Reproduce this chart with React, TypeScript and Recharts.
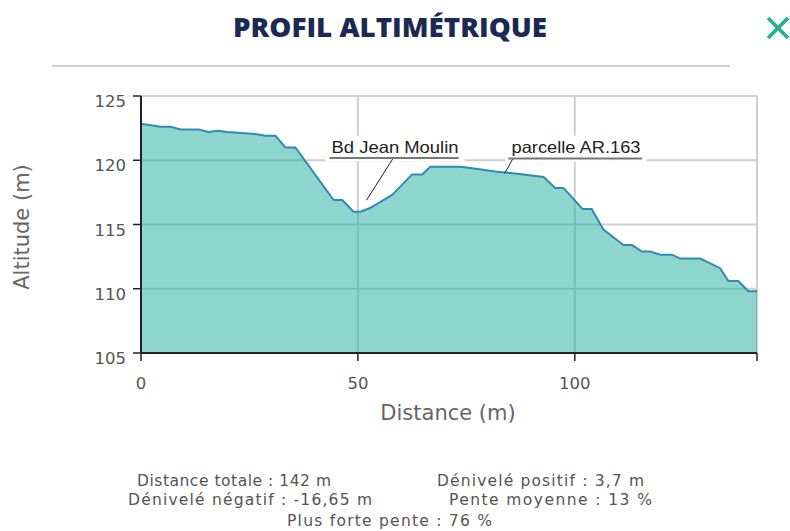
import React from 'react';
import { AreaChart, Area, XAxis, YAxis, CartesianGrid, ReferenceDot } from 'recharts';

const distances = [0, 4.5, 6.8, 9.1, 13.3, 15.6, 17.6, 19.9, 26.4, 28.7, 31.0, 33.3, 35.6, 44.4, 46.4, 49.0, 50.6, 52.9, 57.9, 62.5, 64.8, 66.7, 73.6, 75.9, 82.1, 86.7, 92.8, 95.5, 97.4, 101.8, 103.9, 106.6, 111.2, 113.2, 115.5, 117.4, 119.7, 122.4, 124.3, 128.9, 133.5, 135.4, 137.7, 140.0, 142];
const altitudes = [122.85, 122.6, 122.6, 122.4, 122.4, 122.2, 122.3, 122.2, 122.05, 121.9, 121.9, 121.0, 121.0, 116.9, 116.9, 116.0, 116.0, 116.3, 117.3, 118.9, 118.9, 119.5, 119.5, 119.4, 119.1, 118.95, 118.7, 117.85, 117.85, 116.2, 116.2, 114.6, 113.4, 113.4, 112.9, 112.9, 112.65, 112.65, 112.35, 112.35, 111.6, 110.6, 110.6, 109.8, 109.8];

const xTicks = [0, 50, 100, 142];
const xTickLabels = ['0', '50', '100', ''];
const yTicks = [105, 110, 115, 120, 125];

const annotationLabels = ['Bd Jean Moulin', 'parcelle AR.163'];
const annotationX = [52.0, 83.8];
const annotationY = [116.9, 118.96];

const titleText = 'PROFIL ALTIMÉTRIQUE';
const xAxisTitle = 'Distance (m)';
const yAxisTitle = 'Altitude (m)';
const statTexts = [
  'Distance totale : 142 m',
  'Dénivelé positif : 3,7 m',
  'Dénivelé négatif : -16,65 m',
  'Pente moyenne : 13 %',
  'Plus forte pente : 76 %',
];

const data = distances.map((d, i) => ({ d, alt: altitudes[i] }));

const FONT = '"DejaVu Sans", Verdana, sans-serif';
const LABEL_FONT = '"Liberation Sans", Arial, sans-serif';

// per-annotation layout (pixel offsets relative to anchor)
const annLayout = [
  { lx: 26, ly: -41, ux1: -37, ux2: 92, uy: -42, tx: -35, ty: -47.5, tw: 127 },
  { lx: 8.4, ly: -15, ux1: 3.7, ux2: 137.7, uy: -15, tx: 7, ty: -21, tw: 129 },
];

const makeAnnotation = (idx: number) => (props: any) => {
  const { cx, cy } = props;
  const L = annLayout[idx];
  return (
    <g>
      <rect x={cx + L.tx - 6} y={cy + L.ty - 17} width={L.tw + 12} height={L.uy - L.ty + 20} fill="#ffffff" />
      <line x1={cx} y1={cy} x2={cx + L.lx} y2={cy + L.ly} stroke="#222" strokeWidth={1} />
      <line x1={cx + L.ux1} y1={cy + L.uy} x2={cx + L.ux2} y2={cy + L.uy} stroke="#777" strokeWidth={2} />
      <text x={cx + L.tx} y={cy + L.ty} fontFamily={LABEL_FONT} fontSize={16.5} fill="#222" textLength={L.tw} lengthAdjust="spacingAndGlyphs">
        {annotationLabels[idx]}
      </text>
    </g>
  );
};

const XTick = (props: any) => {
  const { x, payload } = props;
  const i = xTicks.indexOf(payload.value);
  const label = i >= 0 ? xTickLabels[i] : '';
  return (
    <text x={x} y={389} textAnchor="middle" fontFamily={FONT} fontSize={16.5} fill="#555">
      {label}
    </text>
  );
};

const YTick = (props: any) => {
  const { y, payload } = props;
  return (
    <text x={126} y={y + 11} textAnchor="end" fontFamily={FONT} fontSize={16.5} fill="#555">
      {payload.value}
    </text>
  );
};

export default function App() {
  return (
    <div style={{ position: 'absolute', left: 0, top: 0, width: 790, height: 531, background: '#fff', overflow: 'hidden' }}>
      <div style={{ position: 'absolute', left: 0, top: 0 }}>
        <AreaChart width={790} height={531} data={data} margin={{ top: 96, right: 33, left: 0, bottom: 0 }}>
          <CartesianGrid stroke="#cfcfcf" strokeWidth={2} />
          <XAxis
            dataKey="d"
            type="number"
            domain={[0, 142]}
            ticks={xTicks}
            height={178}
            axisLine={{ stroke: '#222', strokeWidth: 2 }}
            tickLine={{ stroke: '#222', strokeWidth: 1.5 }}
            tickSize={8}
            tick={<XTick />}
            interval={0}
            allowDataOverflow
          />
          <YAxis
            type="number"
            domain={[105, 125]}
            ticks={yTicks}
            width={141}
            axisLine={{ stroke: '#222', strokeWidth: 2 }}
            tickLine={{ stroke: '#222', strokeWidth: 1.5 }}
            tickSize={8}
            tick={<YTick />}
            interval={0}
            allowDataOverflow
          />
          <Area
            type="linear"
            dataKey="alt"
            stroke="#2f8ab5"
            strokeWidth={2}
            fill="#26b0a0"
            fillOpacity={0.52}
            isAnimationActive={false}
            dot={false}
            activeDot={false}
          />
          {annotationLabels.map((lab, i) => (
            <ReferenceDot
              key={lab}
              x={annotationX[i]}
              y={annotationY[i]}
              r={1}
              ifOverflow="visible"
              shape={makeAnnotation(i)}
            />
          ))}
        </AreaChart>
      </div>
      <svg width={790} height={531} style={{ position: 'absolute', left: 0, top: 0, pointerEvents: 'none' }}>
        <text x={390} y={37} textAnchor="middle" fontFamily='"Open Sans", sans-serif' fontWeight={800} fontSize={27} fill="#1a2a52" textLength={314} lengthAdjust="spacingAndGlyphs">
          {titleText}
        </text>
        <line x1={768} y1={18} x2={788} y2={38} stroke="#22b08f" strokeWidth={3.8} />
        <line x1={788} y1={18} x2={768} y2={38} stroke="#22b08f" strokeWidth={3.8} />
        <line x1={52} y1={66} x2={730} y2={66} stroke="#d0d0d0" strokeWidth={2} />
        <text x={448} y={420} textAnchor="middle" fontFamily={FONT} fontSize={21} fill="#666">
          {xAxisTitle}
        </text>
        <text x={29} y={227} textAnchor="middle" fontFamily={FONT} fontSize={21} fill="#666" transform="rotate(-90 29 227)">
          {yAxisTitle}
        </text>
        <text x={137} y={486} fontFamily={FONT} fontSize={15.5} fill="#555" textLength={194} lengthAdjust="spacing">{statTexts[0]}</text>
        <text x={437} y={486} fontFamily={FONT} fontSize={15.5} fill="#555" textLength={207} lengthAdjust="spacing">{statTexts[1]}</text>
        <text x={128} y={505} fontFamily={FONT} fontSize={15.5} fill="#555" textLength={244} lengthAdjust="spacing">{statTexts[2]}</text>
        <text x={449} y={505} fontFamily={FONT} fontSize={15.5} fill="#555" textLength={203} lengthAdjust="spacing">{statTexts[3]}</text>
        <text x={287} y={526} fontFamily={FONT} fontSize={15.5} fill="#555" textLength={205} lengthAdjust="spacing">{statTexts[4]}</text>
      </svg>
    </div>
  );
}
